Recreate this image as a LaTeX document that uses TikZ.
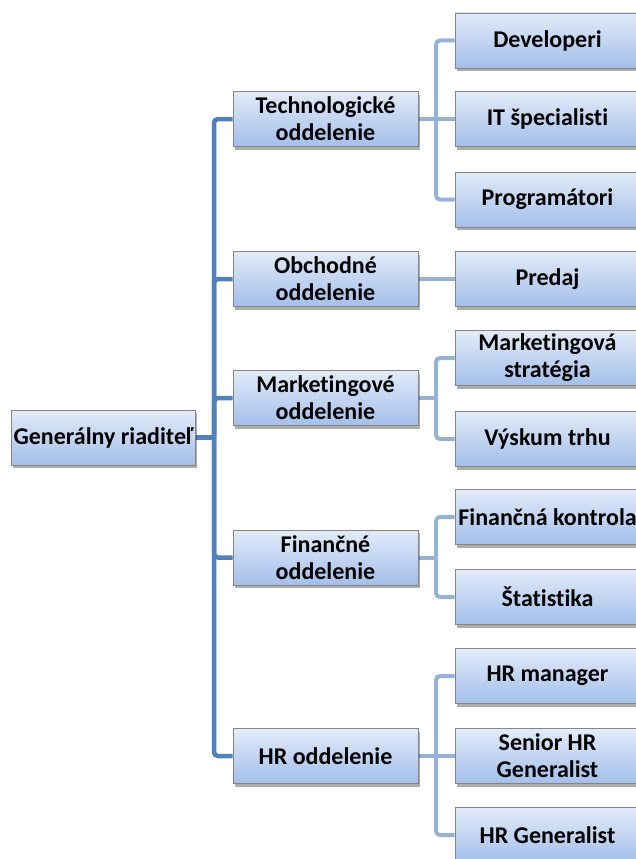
\documentclass[tikz,border=0pt]{standalone}
\usepackage{fontspec}
\setmainfont{Carlito}[Ligatures=NoCommon]
\usetikzlibrary{shadows,backgrounds}
\definecolor{mainln}{HTML}{4F81BD}
\definecolor{subln}{HTML}{95B3D7}
\definecolor{boxtop}{HTML}{E2EBF9}
\definecolor{boxbot}{HTML}{A3BFEB}
\definecolor{boxborder}{HTML}{858585}
\begin{document}
\begin{tikzpicture}[x=1pt,y=-1pt,
  box/.style={draw=boxborder, line width=0.7pt, top color=boxtop, bottom color=boxbot,
    minimum width=185pt, minimum height=55pt, inner xsep=1pt, inner ysep=1pt, align=center,
    font=\fontsize{24}{27}\selectfont\bfseries,
    drop shadow={shadow xshift=1.5pt, shadow yshift=-3pt, fill=black, opacity=0.32}},
  mainline/.style={draw=mainln, line width=4.5pt, rounded corners=4pt},
  subline/.style={draw=subln, line width=4pt, rounded corners=4pt}]
\useasboundingbox (0,0) rectangle (636,859);
% root
\node[box, minimum width=184pt] (root) at (103.5,437.5) {Generálny riaditeľ};
% level 1
\node[box] (tech) at (325.5,119) {Technologické\\oddelenie};
\node[box] (obch) at (325.5,279) {Obchodné\\oddelenie};
\node[box] (mark) at (325.5,398) {Marketingové\\oddelenie};
\node[box] (fin)  at (325.5,557.5) {Finančné\\oddelenie};
\node[box] (hr)   at (325.5,756) {HR oddelenie};
% level 2
\node[box] (dev)  at (547.5,40.5) {Developeri};
\node[box] (it)   at (547.5,119) {IT špecialisti};
\node[box] (prog) at (547.5,199.5) {Programátori};
\node[box] (pred) at (547.5,279) {Predaj};
\node[box] (mstr) at (547.5,358) {Marketingová\\stratégia};
\node[box] (vysk) at (547.5,439) {Výskum trhu};
\node[box] (fkon) at (547.5,517) {Finančná kontrola};
\node[box] (stat) at (547.5,597) {Štatistika};
\node[box] (hrm)  at (547.5,676) {HR manager};
\node[box] (shr)  at (547.5,756) {Senior HR\\Generalist};
\node[box] (hrg)  at (547.5,835) {HR Generalist};
% junctions
\coordinate (j0) at (214,437.5);
\coordinate (jt) at (436,119);
\coordinate (jm) at (436,398);
\coordinate (jf) at (436,557.5);
\coordinate (jh) at (436,756);
\begin{scope}[on background layer]
  \draw[mainline] (root.east) -- (j0);
  \draw[mainline] (j0) |- (tech.west);
  \draw[mainline] (j0) |- (obch.west);
  \draw[mainline] (j0) |- (mark.west);
  \draw[mainline] (j0) |- (fin.west);
  \draw[mainline] (j0) |- (hr.west);
  \draw[subline] (tech.east) -- (it.west);
  \draw[subline] (jt) |- (dev.west);
  \draw[subline] (jt) |- (prog.west);
  \draw[subline] (obch.east) -- (pred.west);
  \draw[subline] (mark.east) -- (jm);
  \draw[subline] (jm) |- (mstr.west);
  \draw[subline] (jm) |- (vysk.west);
  \draw[subline] (fin.east) -- (jf);
  \draw[subline] (jf) |- (fkon.west);
  \draw[subline] (jf) |- (stat.west);
  \draw[subline] (hr.east) -- (shr.west);
  \draw[subline] (jh) |- (hrm.west);
  \draw[subline] (jh) |- (hrg.west);
\end{scope}
\end{tikzpicture}
\end{document}
